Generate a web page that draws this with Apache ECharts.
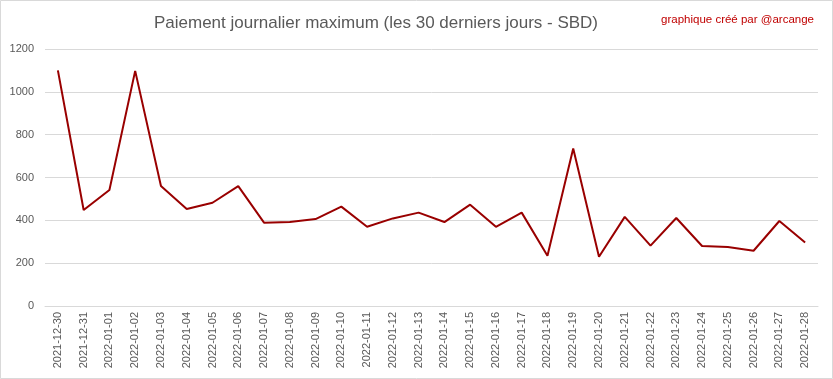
<!DOCTYPE html>
<html><head><meta charset="utf-8">
<script src="https://cdn.jsdelivr.net/npm/echarts@6/dist/echarts.min.js"></script>
<style>html,body{margin:0;padding:0;background:#fff}#c{width:833px;height:379px}</style>
</head><body><div id="c"></div>
<script>
const categories = ['2021-12-30','2021-12-31','2022-01-01','2022-01-02','2022-01-03','2022-01-04','2022-01-05','2022-01-06','2022-01-07','2022-01-08','2022-01-09','2022-01-10','2022-01-11','2022-01-12','2022-01-13','2022-01-14','2022-01-15','2022-01-16','2022-01-17','2022-01-18','2022-01-19','2022-01-20','2022-01-21','2022-01-22','2022-01-23','2022-01-24','2022-01-25','2022-01-26','2022-01-27','2022-01-28'];
const values = [1100,448,542,1098,560,453,482,560,389,392,406,464,370,409,436,392,473,370,436,235,735,230,416,282,411,280,275,258,397,296];
const titleText = 'Paiement journalier maximum (les 30 derniers jours - SBD)';
const creditText = 'graphique créé par @arcange';

const chart = echarts.init(document.getElementById('c'));
chart.setOption({
  animation:false,
  backgroundColor:'#fff',
  graphic:[{type:'rect',shape:{x:0.5,y:0.5,width:832,height:378},style:{fill:'none',stroke:'#d9d9d9',lineWidth:1}}],
  title:[
    {text:titleText,left:371,top:10,textAlign:'center',textStyle:{fontFamily:'Liberation Sans',fontSize:17,fontWeight:'normal',color:'#595959'}},
    {text:creditText,right:14,top:9,textStyle:{fontFamily:'Liberation Sans',fontSize:11.5,fontWeight:'normal',color:'#c00000'}}
  ],
  grid:{left:45,right:15,top:49,bottom:73,containLabel:false},
  xAxis:{type:'category',data:categories,boundaryGap:true,
    axisLine:{lineStyle:{color:'#d9d9d9'}},axisTick:{show:false},
    axisLabel:{rotate:90,interval:0,fontFamily:'Liberation Sans',fontSize:11,color:'#595959',margin:6}},
  yAxis:{type:'value',min:0,max:1200,interval:200,
    axisLine:{show:false},axisTick:{show:false},
    splitLine:{lineStyle:{color:'#d9d9d9'}},
    axisLabel:{fontFamily:'Liberation Sans',fontSize:11,color:'#595959',margin:11,formatter:v=>String(v)}},
  series:[{type:'line',data:values,symbol:'none',lineStyle:{color:'#990000',width:2}}]
});
</script></body></html>
